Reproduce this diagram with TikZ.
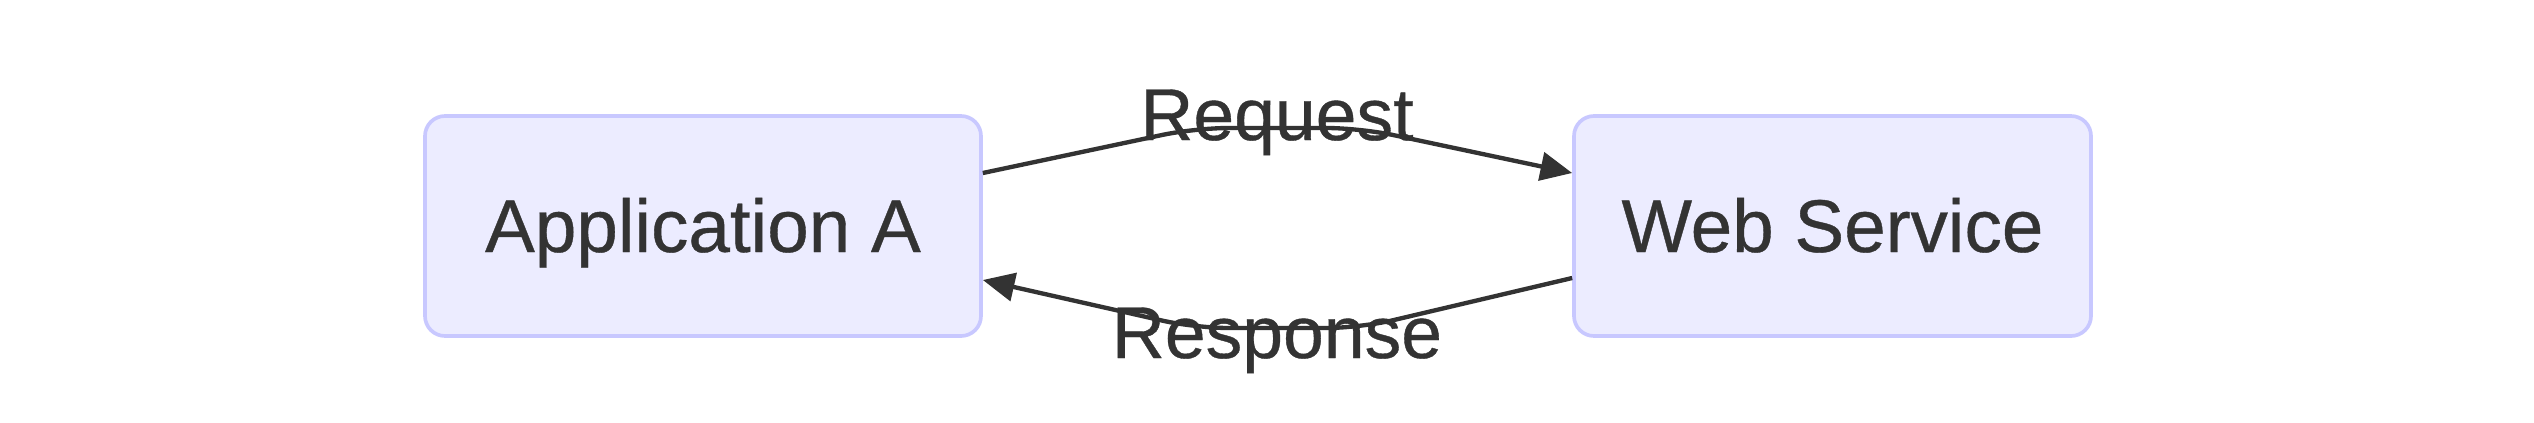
\documentclass[tikz,border=0pt]{standalone}
\usepackage{fontspec}
\setmainfont{Liberation Sans}
\newfontfamily\diagfont[FakeBold=0.5]{Liberation Sans}
\usetikzlibrary{arrows.meta}
\definecolor{nodefill}{HTML}{ECECFF}
\definecolor{nodeline}{HTML}{C8C8FF}
\definecolor{ink}{HTML}{333333}
\begin{document}
\begin{tikzpicture}[x=0.3pt,y=-0.3pt,
  box/.style={draw=nodeline,fill=nodefill,line width=1.1pt,rounded corners=6pt,
    minimum height=66pt,inner sep=0pt,text=ink},
  lbl/.style={text=ink,font=\diagfont\fontsize{22.4}{26}\selectfont,inner sep=0pt,anchor=base},
  arr/.style={draw=ink,line width=1.3pt,rounded corners=10pt,-{Triangle[length=9.5pt,width=8.5pt]}}]
\fill[white] (0,0) rectangle (2534,422);
\useasboundingbox (0,0) rectangle (2534,422);
\node[box,minimum width=166.8pt] (A) at (703,226) {};
\node[box,minimum width=155.1pt] (B) at (1832.5,226) {};
\node[lbl] (At) at (703,252) {Application A};
\node[lbl] (Bt) at (1832.5,252) {Web Service};
\coordinate (r1) at (1195,128);
\coordinate (r2) at (1360,128);
\coordinate (s1) at (1360,328);
\coordinate (s2) at (1195,328);
\draw[arr] ([yshift=15.9pt]A.east) -- (r1) -- (r2) -- ([yshift=15.9pt]B.west);
\draw[arr] ([yshift=-15.6pt]B.west) -- (s1) -- (s2) -- ([yshift=-16.2pt]A.east);
\node[lbl,font=\diagfont\fontsize{22}{26}\selectfont] (req) at (1277,140) {Request};
\node[lbl,font=\diagfont\fontsize{22}{26}\selectfont] (resp) at (1277,358) {Response};
\end{tikzpicture}
\end{document}
